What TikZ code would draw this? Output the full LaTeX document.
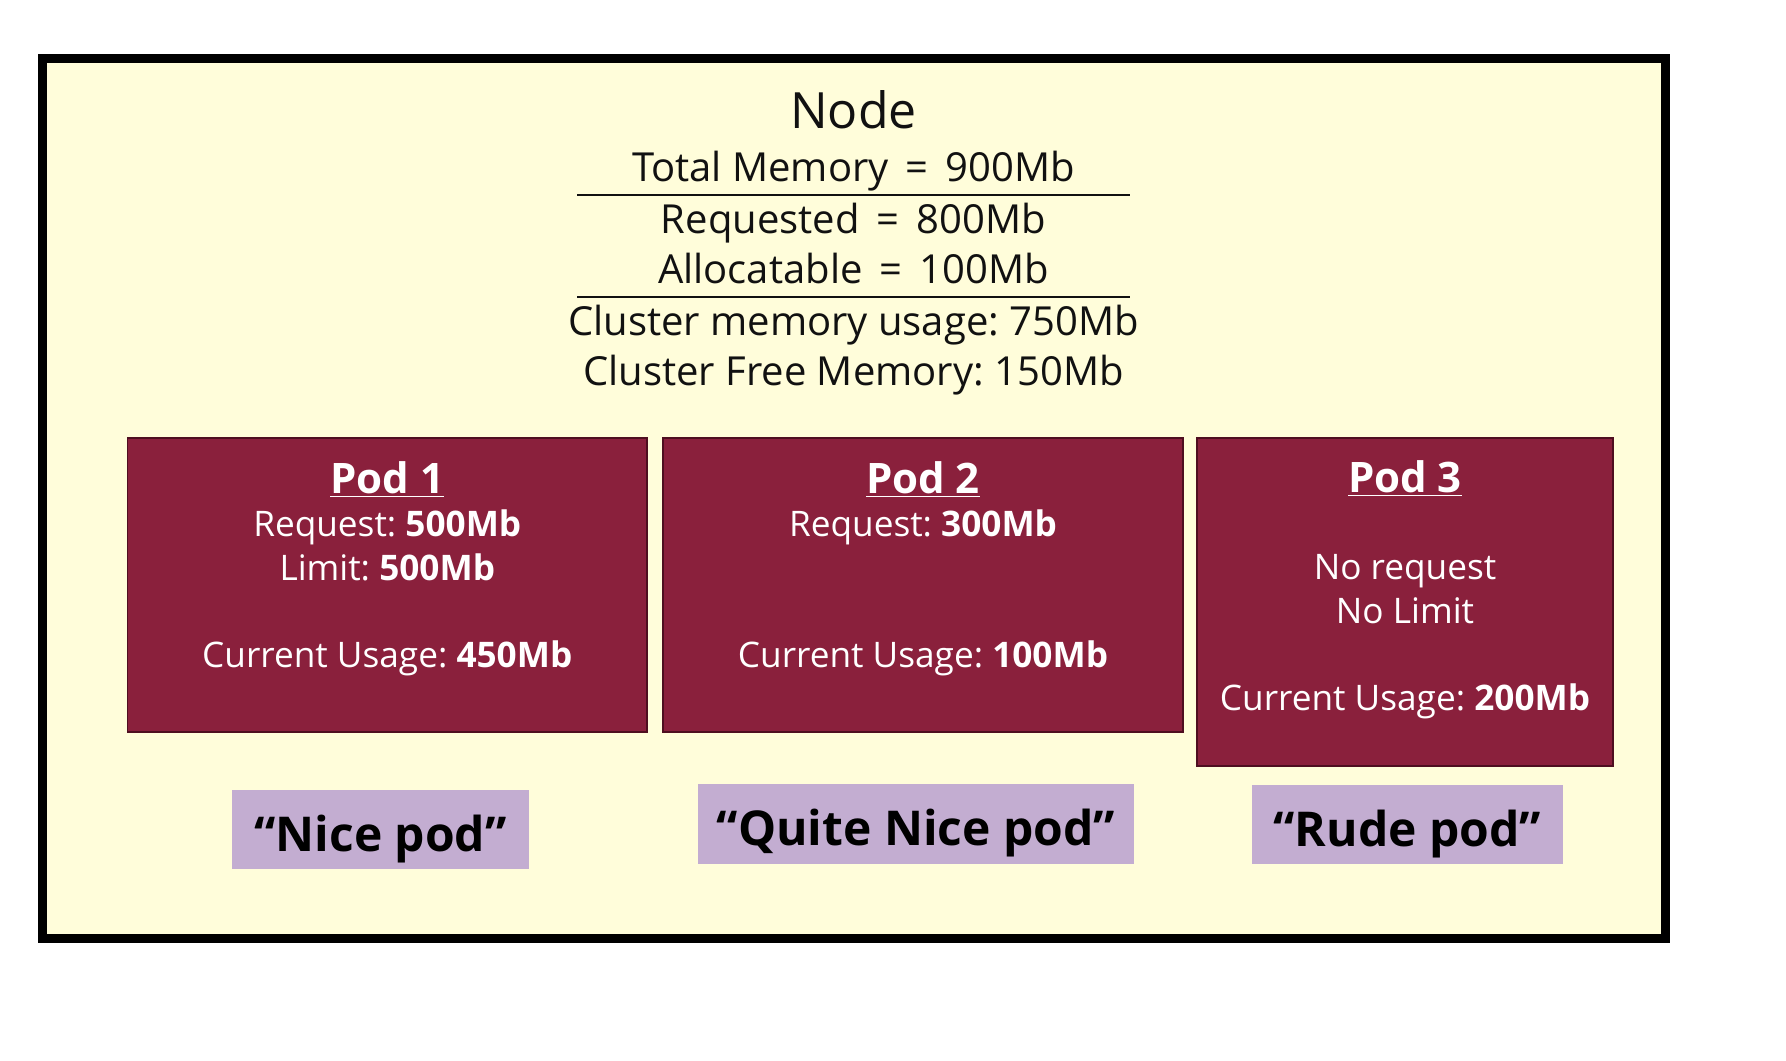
\documentclass[tikz,border=0pt]{standalone}
\usepackage{fontspec}
\setmainfont{Open Sans}
\frenchspacing
\usetikzlibrary{positioning}
\definecolor{cnodefill}{HTML}{FFFDDA}
\definecolor{cpod}{HTML}{8A203C}
\definecolor{cpodline}{HTML}{4E0E20}
\definecolor{ctag}{HTML}{C3ADD1}
\definecolor{cdark}{HTML}{111111}
\newcommand{\podtitle}[1]{{\fontsize{21}{21.75}\selectfont\bfseries\underline{#1}}}
\newcommand{\eqsign}{\ \,=\ \,}

\begin{document}
\begin{tikzpicture}[x=0.5pt,y=-0.5pt,
  nodebox/.style={draw=black, fill=cnodefill, line width=4.5pt, inner sep=0},
  podbox/.style={draw=cpodline, fill=cpod, line width=0.8pt, inner sep=0},
  podtxt/.style={text=white, align=center, anchor=base, inner sep=0, font=\fontsize{17.6}{21.75}\selectfont},
  tagbox/.style={fill=ctag, inner sep=0, text=black, text height=24.5pt, text depth=3pt, font=\fontsize{24}{30}\selectfont\bfseries},
  memtxt/.style={anchor=base, inner sep=0, text=cdark, font=\fontsize{20}{24}\selectfont},
  sepline/.style={line width=1pt, draw=cdark}]

\useasboundingbox (0,0) rectangle (1786,1060);

\node[nodebox, minimum width=811.5pt, minimum height=439.9pt] (k8snode) at (854,498.6) {};

\node[memtxt, font=\fontsize{25}{30}\selectfont] (title) at (853.5,128.3) {Node};
\node[memtxt] (total) at (853.5,181.7) {Total Memory\eqsign 900Mb};
\node[memtxt] (requested) at (853.5,233.3) {Requested\eqsign 800Mb};
\node[memtxt] (alloc) at (853.5,283.3) {Allocatable\eqsign 100Mb};
\node[memtxt] (usage) at (853.5,335) {Cluster memory usage: 750Mb};
\node[memtxt] (free) at (853.5,385) {Cluster Free Memory: 150Mb};
\draw[sepline] (577,195) -- (1130,195);
\draw[sepline] (577,297) -- (1130,297);

\node[podbox, minimum width=259.75pt, minimum height=147pt] (pod1) at (387.25,585) {};
\node[podbox, minimum width=260pt, minimum height=147pt] (pod2) at (923,585) {};
\node[podbox, minimum width=208pt, minimum height=164pt] (pod3) at (1405,602) {};

% anchor=base sits on the last line
\node[podtxt] (pod1txt) at (pod1.north |- 0,667) {\podtitle{Pod 1}\\Request: \textbf{500Mb}\\Limit: \textbf{500Mb}\\[21.75pt]Current Usage: \textbf{450Mb}};
\node[podtxt] (pod2txt) at (pod2.north |- 0,667) {\podtitle{Pod 2}\\Request: \textbf{300Mb}\\[43.5pt]Current Usage: \textbf{100Mb}};
\node[podtxt] (pod3txt) at (pod3.north |- 0,710) {\podtitle{Pod 3}\\[21.75pt]No request\\No Limit\\[21.75pt]Current Usage: \textbf{200Mb}};

\node[tagbox, minimum width=148.5pt, minimum height=39.5pt] (nice) at (380.5,829.5) {“Nice pod”};
\node[tagbox, minimum width=218pt, minimum height=40pt] (quitenice) at (916,824) {“Quite Nice pod”};
\node[tagbox, minimum width=155.75pt, minimum height=39.5pt] (rude) at (1407.25,824.5) {“Rude pod”};
\end{tikzpicture}
\end{document}
